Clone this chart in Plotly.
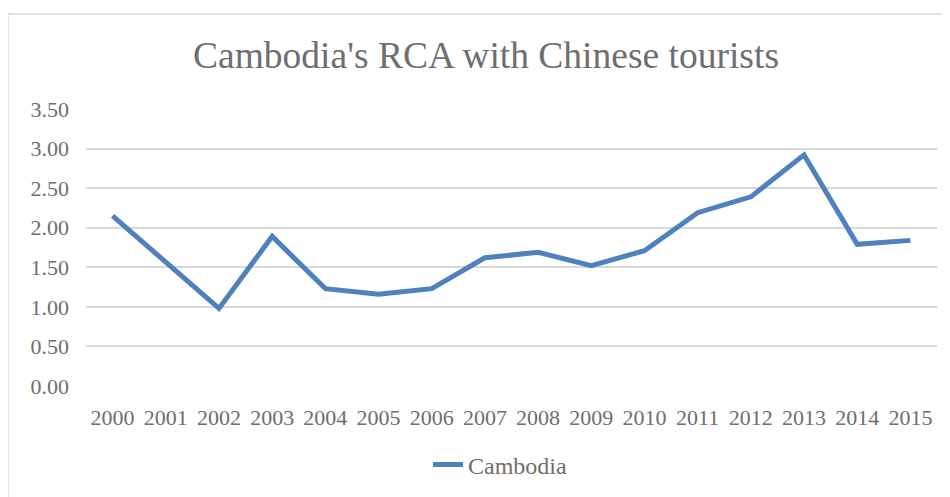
import plotly.graph_objects as go

years = [str(y) for y in range(2000, 2016)]
rca = [2.15, 1.56, 0.98, 1.89, 1.23, 1.16, 1.23, 1.62, 1.69, 1.52, 1.71, 2.19, 2.39, 2.92, 1.79, 1.84]
series_name = "Cambodia"
title_text = "Cambodia's RCA with Chinese tourists"
y_ticks = [0, 0.5, 1.0, 1.5, 2.0, 2.5, 3.0, 3.5]

# page body has an 8px default margin; compensate so the screenshot lines up
OFF = 8
W, H = 950 - OFF, 497 - OFF
L, R, T, B = 86 - OFF, 13, 109 - OFF, 111
pw = W - L - R
ph = H - T - B

def px_x(sx):
    return (sx - OFF - L) / pw

def px_y(sy):
    return (T + ph - (sy - OFF)) / ph

font_family = "Liberation Serif"
text_color = "#6e6e6e"

fig = go.Figure()
fig.add_trace(go.Scatter(
    x=years, y=rca, mode="lines", name=series_name,
    line=dict(color="#4F81BD", width=5, shape="linear"),
))

fig.update_layout(
    width=W, height=H,
    margin=dict(l=L, r=R, t=T, b=B, autoexpand=False),
    paper_bgcolor="white", plot_bgcolor="white",
    font=dict(family=font_family, color=text_color, size=22),
    title=dict(
        text=title_text,
        font=dict(family=font_family, size=37.5, color=text_color),
        x=px_x(486), xanchor="center", xref="paper",
        y=1 - (55 - OFF) / H, yanchor="middle", yref="container",
    ),
    showlegend=True,
    legend=dict(
        orientation="h", x=px_x(500), xanchor="center",
        y=px_y(465), yanchor="middle",
        font=dict(family=font_family, size=24, color=text_color),
        bgcolor="rgba(0,0,0,0)",
    ),
    xaxis=dict(
        type="category", range=[-0.5, len(years) - 0.5],
        showgrid=False, zeroline=False, showline=False,
        ticks="", ticklabelstandoff=16,
        tickfont=dict(family=font_family, size=22, color=text_color),
    ),
    yaxis=dict(
        range=[0, 3.5], tickvals=y_ticks,
        ticktext=[f"{v:.2f}" for v in y_ticks],
        showgrid=True, gridcolor="#d9d9d9", gridwidth=1.5,
        zeroline=False, showline=False, ticks="",
        ticklabelstandoff=16,
        tickfont=dict(family=font_family, size=22, color=text_color),
    ),
    shapes=[
        dict(type="line", xref="paper", yref="paper",
             x0=px_x(8), x1=px_x(8), y0=px_y(14), y1=px_y(520),
             line=dict(color="#d9d9d9", width=1.5)),
        dict(type="line", xref="paper", yref="paper",
             x0=px_x(8), x1=px_x(960), y0=px_y(14), y1=px_y(14),
             line=dict(color="#d9d9d9", width=1.5)),
    ],
)

fig.write_html("out.html")
